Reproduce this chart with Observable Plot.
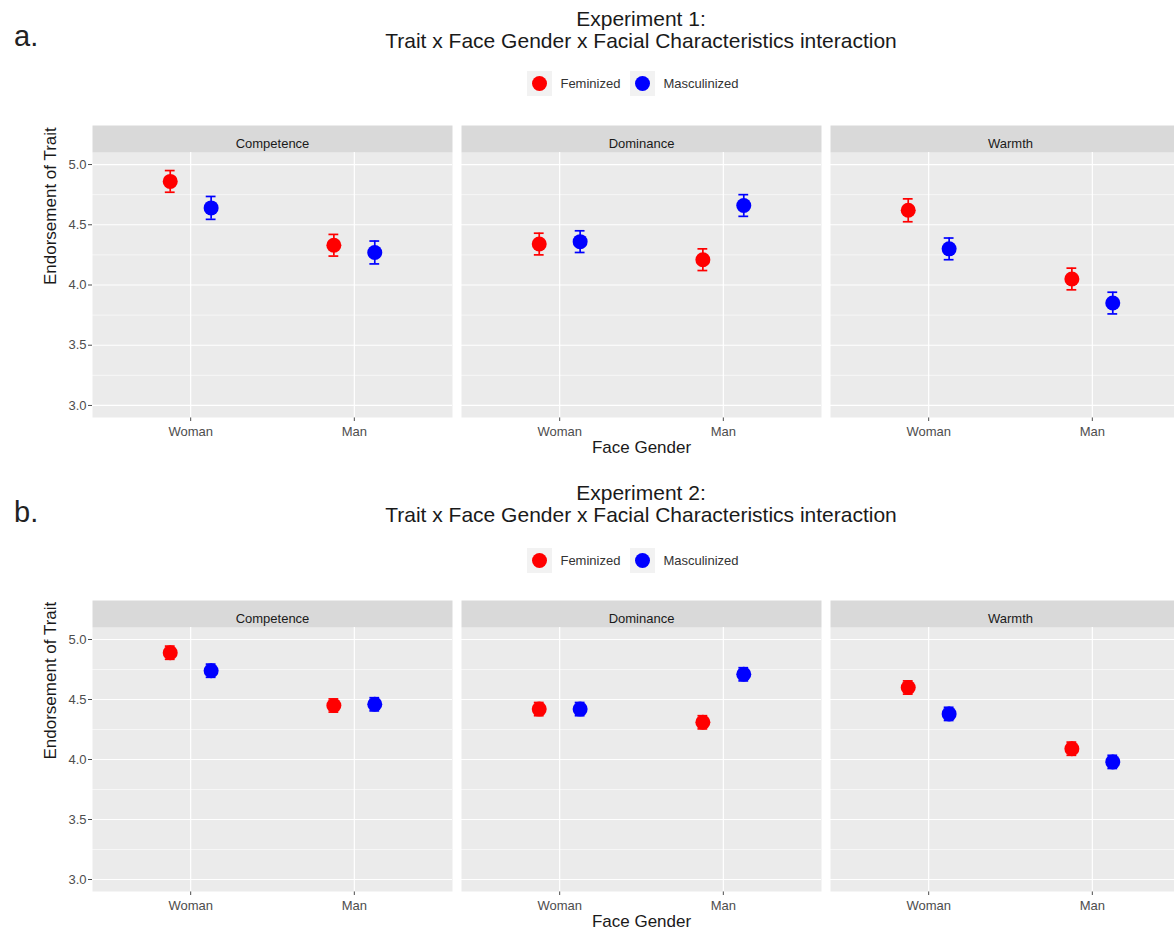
<!DOCTYPE html>
<html>
<head>
<meta charset="utf-8">
<script src="https://cdn.jsdelivr.net/npm/d3@7"></script>
<script src="https://cdn.jsdelivr.net/npm/@observablehq/plot@0.6"></script>
<style>
  html, body { margin: 0; padding: 0; background: #fff; overflow: hidden; }
  #root { width: 1174px; overflow: hidden; font-family: "Liberation Sans", Arial, sans-serif; }
  .header { position: relative; width: 1174px; }
  .panel-letter { position: absolute; left: 14px; font-size: 29px; line-height: 1; color: #222; }
  .title { position: absolute; left: 0; width: 1282px; text-align: center; font-size: 21px; line-height: 22.4px; color: #1a1a1a; }
  .legend { position: absolute; left: 0; width: 1276px; height: 25px; display: flex; justify-content: center; align-items: center; font-size: 13px; color: #333; }
  .key { width: 25px; height: 25px; background: #F2F2F2; display: flex; align-items: center; justify-content: center; }
  .key span { display: block; width: 15px; height: 15px; border-radius: 50%; }
  .lab { margin-left: 8px; margin-right: 10px; }
  #root svg { display: block; max-width: none !important; width: 1200px !important; height: 350px !important; }
</style>
</head>
<body>
<div id="root"></div>
<script>
// ---------- data ----------
const traits = ["Competence", "Dominance", "Warmth"];
const genders = ["Woman", "Man"];
const characteristics = ["Feminized", "Masculinized"];
const colors = ["#FF0000", "#0000FF"];
const yTicks = [3.0, 3.5, 4.0, 4.5, 5.0];
const yMinor = [3.25, 3.75, 4.25, 4.75];

// order: Competence-Woman, Competence-Man, Dominance-Woman, Dominance-Man, Warmth-Woman, Warmth-Man
const exp1Feminized    = [4.86, 4.33, 4.34, 4.21, 4.62, 4.05];
const exp1Masculinized = [4.64, 4.27, 4.36, 4.66, 4.30, 3.85];
const exp1FeminizedSE    = [0.09, 0.09, 0.09, 0.09, 0.095, 0.09];
const exp1MasculinizedSE = [0.095, 0.095, 0.09, 0.09, 0.09, 0.09];

const exp2Feminized    = [4.89, 4.45, 4.42, 4.31, 4.60, 4.09];
const exp2Masculinized = [4.74, 4.46, 4.42, 4.71, 4.38, 3.98];
const exp2FeminizedSE    = [0.055, 0.055, 0.055, 0.055, 0.055, 0.055];
const exp2MasculinizedSE = [0.055, 0.055, 0.055, 0.055, 0.055, 0.055];

const experiments = [
  {letter: "a.", title1: "Experiment 1:", fem: exp1Feminized, mas: exp1Masculinized, femSE: exp1FeminizedSE, masSE: exp1MasculinizedSE},
  {letter: "b.", title1: "Experiment 2:", fem: exp2Feminized, mas: exp2Masculinized, femSE: exp2FeminizedSE, masSE: exp2MasculinizedSE}
];
const subtitle = "Trait x Face Gender x Facial Characteristics interaction";

// ---------- layout ----------
const layouts = [
  {headerH: 110, titleTop: 7.9, letterTop: 22.2, legendTop: 70.8, svgH: 350, mt: 42, mb: 43},
  {headerH: 125, titleTop: 22.0, letterTop: 37.5, legendTop: 87.5, svgH: 350, mt: 42, mb: 44}
];
const dodge = 0.125;
const capHalf = 0.03;

function buildRows(e) {
  const rows = [];
  traits.forEach((t, i) => {
    genders.forEach((g, j) => {
      const k = i * 2 + j;
      [[characteristics[0], e.fem[k], e.femSE[k], -dodge], [characteristics[1], e.mas[k], e.masSE[k], dodge]].forEach(([c, m, se, off]) => {
        rows.push({trait: t, gender: g, char: c, mean: m, lo: m - se, hi: m + se, x: j + 1 + off});
      });
    });
  });
  return rows;
}

const root = document.getElementById("root");

experiments.forEach((e, idx) => {
  const L = layouts[idx];
  const header = document.createElement("div");
  header.className = "header";
  header.style.height = L.headerH + "px";

  const letter = document.createElement("div");
  letter.className = "panel-letter";
  letter.style.top = L.letterTop + "px";
  letter.textContent = e.letter;
  header.appendChild(letter);

  const title = document.createElement("div");
  title.className = "title";
  title.style.top = L.titleTop + "px";
  title.innerHTML = e.title1 + "<br>" + subtitle;
  header.appendChild(title);

  const legend = document.createElement("div");
  legend.className = "legend";
  legend.style.top = L.legendTop + "px";
  characteristics.forEach((c, i) => {
    const key = document.createElement("div");
    key.className = "key";
    const dot = document.createElement("span");
    dot.style.background = colors[i];
    key.appendChild(dot);
    const lab = document.createElement("div");
    lab.className = "lab";
    lab.textContent = c;
    legend.appendChild(key);
    legend.appendChild(lab);
  });
  header.appendChild(legend);
  root.appendChild(header);

  const rows = buildRows(e);
  const frameH = L.svgH - L.mt - L.mb;
  const font = "Liberation Sans, Arial, sans-serif";

  const plot = Plot.plot({
    width: 1200,
    height: L.svgH,
    marginLeft: 92,
    marginRight: 10,
    marginTop: L.mt,
    marginBottom: L.mb,
    style: {fontFamily: font, fontSize: "13px", color: "#4D4D4D", background: "white", overflow: "visible"},
    fx: {domain: traits, axis: null, paddingInner: 9 / 369, paddingOuter: 0},
    x: {domain: [0.4, 2.6], ticks: [1, 2], tickFormat: d => genders[d - 1], tickSize: 4, tickPadding: 5, label: null, axis: "bottom"},
    y: {domain: [2.9, 5.1], ticks: yTicks, tickFormat: d3.format(".1f"), tickSize: 4, tickPadding: 2, label: null, axis: "left"},
    color: {domain: characteristics, range: colors},
    marks: [
      Plot.frame({fill: "#EBEBEB"}),
      Plot.frame({fill: "#D9D9D9", insetTop: -27, insetBottom: frameH}),
      Plot.ruleY(yMinor, {stroke: "white", strokeWidth: 0.6}),
      Plot.ruleY(yTicks, {stroke: "white", strokeWidth: 1.2}),
      Plot.ruleX([1, 2], {stroke: "white", strokeWidth: 1.2}),
      Plot.ruleX(rows, {fx: "trait", x: "x", y1: "lo", y2: "hi", stroke: "char", strokeWidth: 1.7}),
      Plot.ruleY(rows, {fx: "trait", y: "lo", x1: d => d.x - capHalf, x2: d => d.x + capHalf, stroke: "char", strokeWidth: 1.7}),
      Plot.ruleY(rows, {fx: "trait", y: "hi", x1: d => d.x - capHalf, x2: d => d.x + capHalf, stroke: "char", strokeWidth: 1.7}),
      Plot.dot(rows, {fx: "trait", x: "x", y: "mean", fill: "char", r: 7.5}),
      Plot.text(traits, {fx: d => d, text: d => d, frameAnchor: "top", dy: -13.5, fill: "#1A1A1A", fontSize: 13}),
      Plot.text([{t: traits[1]}], {fx: "t", text: () => "Face Gender", frameAnchor: "bottom", dy: 35.5, fill: "#1A1A1A", fontSize: 17}),
      Plot.text([{t: traits[0]}], {fx: "t", text: () => "Endorsement of Trait", frameAnchor: "left", dx: -42, rotate: -90, fill: "#1A1A1A", fontSize: 17})
    ]
  });
  root.appendChild(plot);
});
</script>
</body>
</html>
